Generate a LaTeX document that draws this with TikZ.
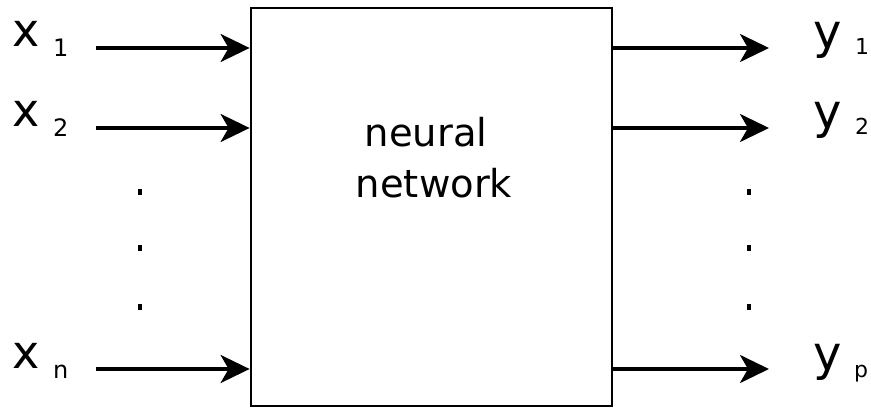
\documentclass[tikz,border=0pt]{standalone}
\usepackage{fontspec}
\setmainfont{DejaVu Sans}
\usetikzlibrary{arrows.meta}
\tikzset{
  varlab/.style={anchor=base west, inner sep=0pt, font=\fontsize{46}{52}\selectfont},
  ylab/.style={anchor=base west, inner sep=0pt, font=\fontsize{48}{54}\selectfont},
  sublab/.style={anchor=base west, inner sep=0pt, font=\fontsize{24}{28}\selectfont},
  ysublab/.style={anchor=base west, inner sep=0pt, font=\fontsize{22}{26}\selectfont},
  sig/.style={line width=3.3pt, -{Stealth[length=29pt,width=28pt,inset=8pt]}},
  nnbox/.style={draw, line width=2.8pt, minimum width=361pt, minimum height=398pt, inner sep=0pt},
  dotmark/.style={fill=black, minimum width=3.5pt, minimum height=5.5pt, inner sep=0pt, outer sep=0pt},
  nntext/.style={anchor=base, inner sep=0pt, font=\fontsize{38.5}{50}\selectfont}
}
\begin{document}
\begin{tikzpicture}[x=1pt,y=-1pt]
\useasboundingbox (0,0) rectangle (871,409);
\node[nnbox] (box) at (431.5,207) {};
\node[nntext] (txt1) at (426,147) {neural};
\node[nntext] (txt2) at (434,197) {network};

% inputs
\node[varlab] (x1) at (12,47) {x};
\node[sublab] (x1s) at (53,57) {1};
\node[varlab] (x2) at (12,127) {x};
\node[sublab] (x2s) at (53,137) {2};
\node[varlab] (xn) at (12,368) {x};
\node[sublab] (xns) at (53,378) {n};

\coordinate (a1) at (96,48);
\coordinate (a2) at (96,128);
\coordinate (an) at (96,369);
\draw[sig] (a1) -- (a1 -| box.west);
\draw[sig] (a2) -- (a2 -| box.west);
\draw[sig] (an) -- (an -| box.west);

% outputs
\coordinate (b1) at (769,48);
\coordinate (b2) at (769,128);
\coordinate (bp) at (769,369);
\draw[sig] (b1 -| box.east) -- (b1);
\draw[sig] (b2 -| box.east) -- (b2);
\draw[sig] (bp -| box.east) -- (bp);

\node[ylab] (y1) at (813,49) {y};
\node[ysublab] (y1s) at (855,55) {1};
\node[ylab] (y2) at (813,129) {y};
\node[ysublab] (y2s) at (855,135) {2};
\node[ylab] (yp) at (813,370) {y};
\node[ysublab] (yps) at (854,377) {p};

% dots
\node[dotmark] (dl1) at (140,192) {};
\node[dotmark] (dl2) at (140,248) {};
\node[dotmark] (dl3) at (140,307) {};
\node[dotmark] (dr1) at (749,192) {};
\node[dotmark] (dr2) at (749,248) {};
\node[dotmark] (dr3) at (749,307) {};
\end{tikzpicture}
\end{document}
